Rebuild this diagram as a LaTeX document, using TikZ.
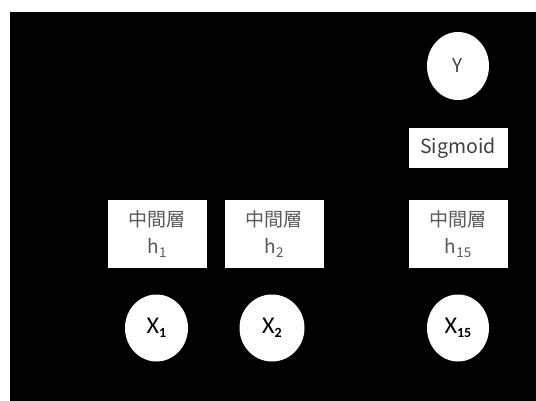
\documentclass[tikz,border=0pt]{standalone}
\usepackage{fontspec}
\setmainfont{Noto Sans CJK JP}
\newfontfamily\xfont{Carlito}
\usetikzlibrary{shapes.geometric,arrows.meta}
\definecolor{boxtext}{HTML}{595959}
\definecolor{labeltext}{HTML}{404040}
\newcommand{\hsub}[1]{\raisebox{-0.4ex}{\fontsize{13.5}{13.5}\selectfont #1}}
\newcommand{\xsub}[1]{\raisebox{-0.4ex}{\fontsize{14}{14}\selectfont\bfseries #1}}
\begin{document}
\begin{tikzpicture}[x=1pt,y=-1pt,
  layerbox/.style={draw=none,fill=white,rectangle,inner sep=0pt,
    minimum width=99pt,minimum height=68pt,align=center,text=boxtext,
    font=\fontsize{19}{27}\selectfont},
  sigbox/.style={draw=none,fill=white,rectangle,inner sep=0pt,
    minimum width=99pt,minimum height=40pt,text=labeltext,
    font=\fontsize{19.5}{19.5}\selectfont},
  invar/.style={draw=none,fill=white,ellipse,inner sep=0pt,
    minimum width=63pt,minimum height=67pt,text=black,
    font=\xfont\fontsize{24}{24}\selectfont},
  outvar/.style={draw=none,fill=white,ellipse,inner sep=0pt,
    minimum width=62pt,minimum height=68pt,text=labeltext,
    font=\fontsize{19}{19}\selectfont},
  link/.style={draw=black,line width=0.8pt,-{Stealth[length=7pt]}}]
  % canvas and black backdrop
  \path[fill=white] (0,0) rectangle (536,401);
  \useasboundingbox (0,0) rectangle (536,401);
  \fill[black] (10,12) rectangle (536,401);

  % output side
  \node[outvar] (y) at (458,66) {Y};
  \node[sigbox] (sig) at (458,148) {Sigmoid};

  % hidden layers
  \node[layerbox] (h1) at (157,234) {中間層\\h\hsub{1}};
  \node[layerbox] (h2) at (274,234) {中間層\\h\hsub{2}};
  \node[layerbox] (h15) at (458,234) {中間層\\h\hsub{15}};

  % inputs
  \node[invar] (x1) at (156.5,328) {X\xsub{1}};
  \node[invar,minimum width=65pt] (x2) at (272,328) {X\xsub{2}};
  \node[invar,minimum width=62pt] (x15) at (458,328) {X\xsub{15}};

  % connectors (drawn in the backdrop colour)
  \draw[link] (x1) -- (h1);
  \draw[link] (x2) -- (h2);
  \draw[link] (x15) -- (h15);
  \draw[link] (h1) -- (h2);
  \draw[link] (h2) -- (h15);
  \draw[link] (h15) -- (sig);
  \draw[link] (sig) -- (y);
\end{tikzpicture}
\end{document}
